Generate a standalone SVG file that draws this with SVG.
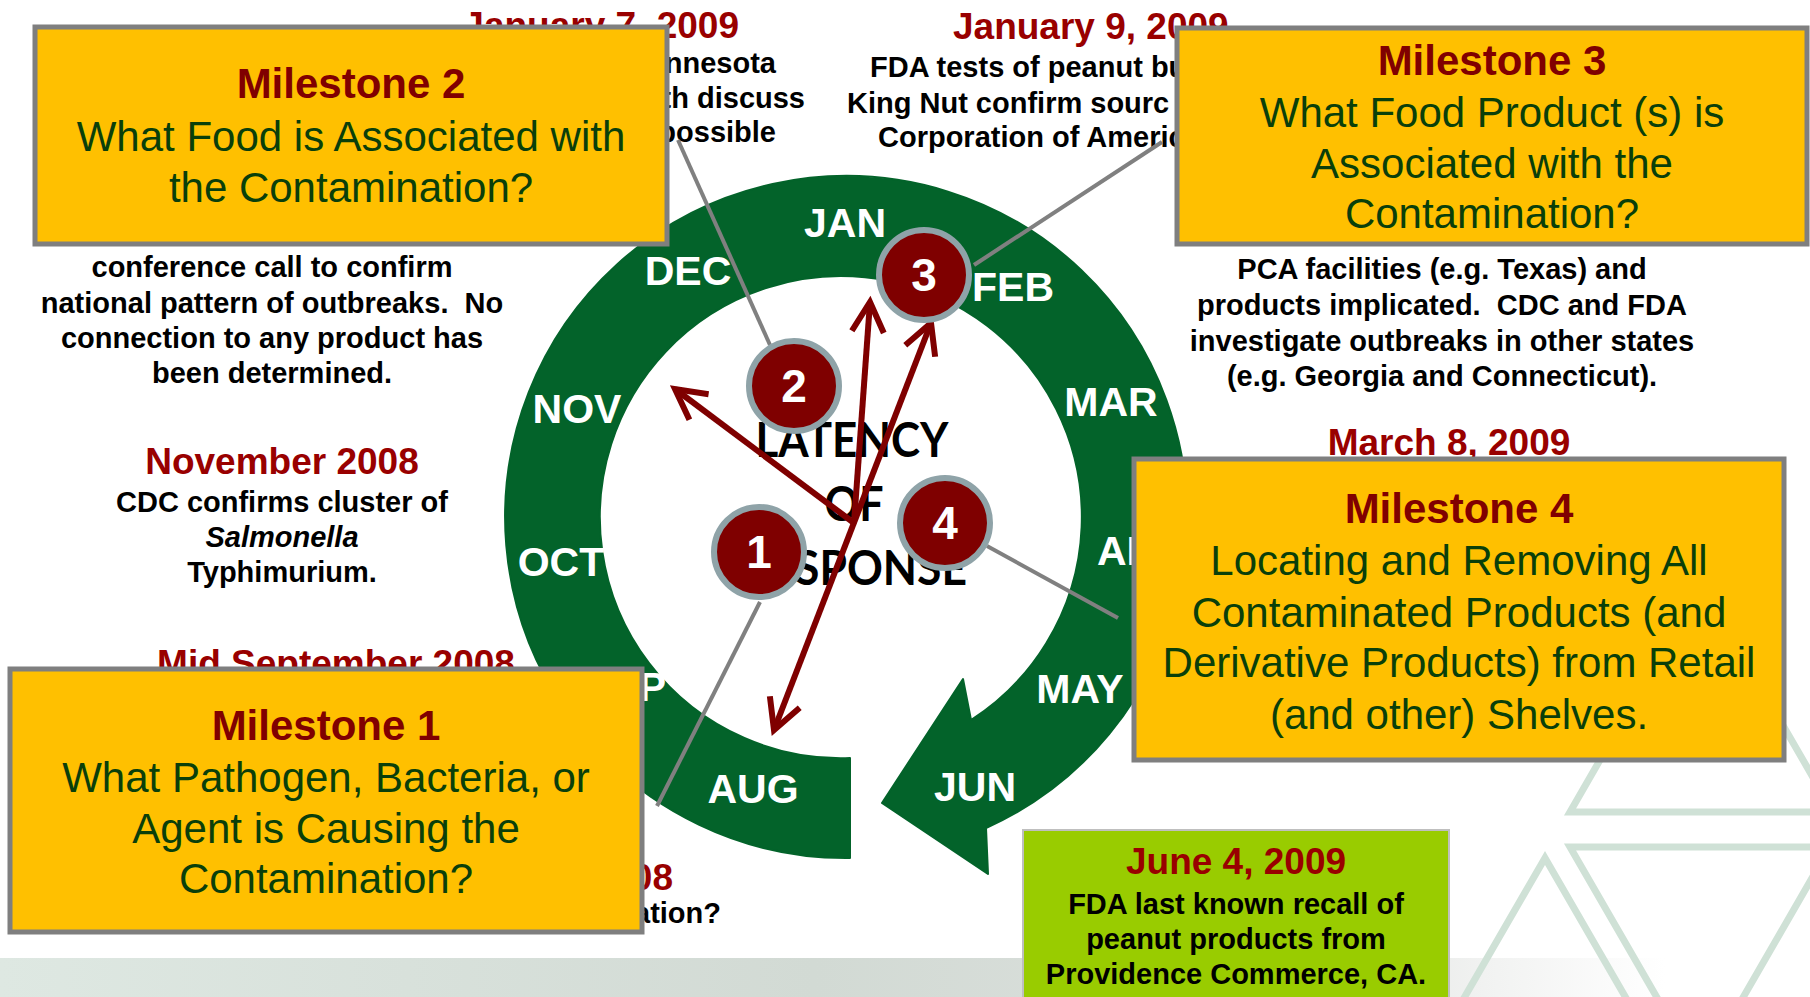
<svg xmlns="http://www.w3.org/2000/svg" width="1810" height="997" viewBox="0 0 1810 997">
<defs>
<style>
.body{font-family:"Liberation Sans",Arial,sans-serif;font-weight:bold;font-size:29px;fill:#000;text-anchor:middle}
.date{font-family:"Liberation Sans",Arial,sans-serif;font-weight:bold;font-size:37px;fill:#990000;text-anchor:middle}
.box{fill:#FFC000;stroke:#7F7F7F;stroke-width:5}
.mtitle{font-family:"Liberation Sans",Arial,sans-serif;font-weight:bold;font-size:42px;fill:#800000;text-anchor:middle}
.mbody{font-family:"Liberation Sans",Arial,sans-serif;font-size:42px;fill:#0A3F0A;text-anchor:middle}
.month{font-family:"Liberation Sans",Arial,sans-serif;font-weight:bold;font-size:41px;fill:#fff;text-anchor:middle}
.num circle{fill:#7F0000;stroke:#8FA3A8;stroke-width:6}
.num text{font-family:"Liberation Sans",Arial,sans-serif;font-weight:bold;font-size:46px;fill:#fff;text-anchor:middle}
.conn{stroke:#808080;stroke-width:4;fill:none}
.red{stroke:#7F0000;stroke-width:6;fill:none}
.tri{fill:none;stroke:#CFE1D6;stroke-width:7}
.lat{font-family:Lato,"Liberation Sans",sans-serif;font-weight:bold;font-size:47px;fill:#000;text-anchor:middle}
</style>
<linearGradient id="band" x1="0" y1="0" x2="1" y2="0">
<stop offset="0" stop-color="#DEE8E2"/>
<stop offset="0.45" stop-color="#D2DAD4"/>
<stop offset="0.7" stop-color="#DCE0DD"/>
<stop offset="0.82" stop-color="#F1F2F1"/>
<stop offset="0.92" stop-color="#FFFFFF"/>
</linearGradient>
<marker id="ah" viewBox="-44 -24 58 48" refX="0" refY="0" markerWidth="58" markerHeight="48" markerUnits="userSpaceOnUse" orient="auto-start-reverse">
<path d="M-30,-16 L0,0 L-30,16" fill="none" stroke="#7F0000" stroke-width="6"/>
</marker>
</defs>

<rect width="1810" height="997" fill="#fff"/>
<g id="background">
<rect x="0" y="958" width="1810" height="39" fill="url(#band)"/>
<polygon class="tri" points="1570,812 1833,812 1701.5,584"/>
<polygon class="tri" points="1570,847 1830,847 1700,1072"/>
<polygon class="tri" points="1545,858 1405,1100 1685,1100"/>
</g>

<g id="note-jan7">
<text class="date" x="739" y="38" style="text-anchor:end">January 7, 2009</text>
<text class="body" x="776" y="73" style="text-anchor:end">nnesota</text>
<text class="body" x="805" y="108" style="text-anchor:end">th discuss</text>
<text class="body" x="776" y="142" style="text-anchor:end">possible</text>
<text class="body" x="272" y="277">conference call to confirm</text>
<text class="body" x="272" y="313">national pattern of outbreaks.&#160; No</text>
<text class="body" x="272" y="348">connection to any product has</text>
<text class="body" x="272" y="383">been determined.</text>
</g>

<g id="note-nov2008">
<text class="date" x="282" y="474">November 2008</text>
<text class="body" x="282" y="512">CDC confirms cluster of</text>
<text class="body" x="282" y="547" font-style="italic">Salmonella</text>
<text class="body" x="282" y="582">Typhimurium.</text>
</g>

<g id="note-sep2008">
<text class="date" x="336" y="676">Mid September 2008</text>
<text class="date" x="673" y="890" style="text-anchor:end">08</text>
<text class="body" x="721" y="923" style="text-anchor:end">ation?</text>
</g>

<g id="note-jan9">
<text class="date" x="953" y="39" style="text-anchor:start">January 9, 2009</text>
<text class="body" x="870" y="77" style="text-anchor:start">FDA tests of peanut bu</text>
<text class="body" x="847" y="113" style="text-anchor:start">King Nut confirm sourc</text>
<text class="body" x="878" y="147" style="text-anchor:start">Corporation of Americ</text>
</g>

<g id="note-pca">
<text class="body" x="1442" y="279">PCA facilities (e.g. Texas) and</text>
<text class="body" x="1442" y="315">products implicated.&#160; CDC and FDA</text>
<text class="body" x="1442" y="351">investigate outbreaks in other states</text>
<text class="body" x="1442" y="386">(e.g. Georgia and Connecticut).</text>
</g>

<g id="note-mar8">
<text class="date" x="1449" y="455">March 8, 2009</text>
</g>

<g id="cycle">
<path d="M850,858 A341,341 0 1 1 986,828 L988,874 L882,803 L963,679 L971,720 A241,241 0 1 0 850,758 Z" fill="#03632A" stroke="#03632A" stroke-width="2" stroke-linejoin="round"/>
<text class="month" x="845" y="237">JAN</text>
<text class="month" x="688" y="285">DEC</text>
<text class="month" x="1013" y="301">FEB</text>
<text class="month" x="577" y="423">NOV</text>
<text class="month" x="1111" y="416">MAR</text>
<text class="month" x="561" y="576">OCT</text>
<text class="month" x="1097" y="565" style="text-anchor:start">APR</text>
<text class="month" x="666" y="701" style="text-anchor:end">SEP</text>
<text class="month" x="1080" y="703">MAY</text>
<text class="month" x="753" y="803">AUG</text>
<text class="month" x="975" y="801">JUN</text>
</g>

<g id="latency">
<text class="lat" x="852" y="457" textLength="193" lengthAdjust="spacingAndGlyphs">LATENCY</text>
<text class="lat" x="854" y="521" textLength="59" lengthAdjust="spacingAndGlyphs">OF</text>
<text class="lat" x="854" y="585" textLength="226" lengthAdjust="spacingAndGlyphs">RESPONSE</text>
</g>

<g id="connectors">
<line class="red" x1="854" y1="523" x2="675" y2="389" marker-end="url(#ah)"/>
<line class="red" x1="854" y1="523" x2="870" y2="302" marker-end="url(#ah)"/>
<line class="red" x1="774" y1="730" x2="931" y2="323" marker-start="url(#ah)" marker-end="url(#ah)"/>
<line class="conn" x1="678" y1="140" x2="770" y2="345"/>
<line class="conn" x1="974" y1="265" x2="1162" y2="142"/>
<line class="conn" x1="760" y1="602" x2="657" y2="806"/>
<line class="conn" x1="987" y1="546" x2="1118" y2="618"/>
</g>

<g id="marker-1" class="num"><circle cx="759" cy="552" r="45"/><text x="759" y="568">1</text></g>
<g id="marker-2" class="num"><circle cx="794" cy="386" r="45"/><text x="794" y="402">2</text></g>
<g id="marker-3" class="num"><circle cx="924" cy="275" r="45"/><text x="924" y="291">3</text></g>
<g id="marker-4" class="num"><circle cx="945" cy="523" r="45"/><text x="945" y="539">4</text></g>

<g id="milestone-2">
<rect class="box" x="35" y="27" width="632" height="217"/>
<text class="mtitle" x="351" y="98">Milestone 2</text>
<text class="mbody" x="351" y="151">What Food is Associated with</text>
<text class="mbody" x="351" y="202">the Contamination?</text>
</g>

<g id="milestone-3">
<rect class="box" x="1177" y="28" width="630" height="216"/>
<text class="mtitle" x="1492" y="75">Milestone 3</text>
<text class="mbody" x="1492" y="127">What Food Product (s) is</text>
<text class="mbody" x="1492" y="178">Associated with the</text>
<text class="mbody" x="1492" y="228">Contamination?</text>
</g>

<g id="milestone-4">
<rect class="box" x="1134" y="459" width="650" height="301"/>
<text class="mtitle" x="1459" y="523">Milestone 4</text>
<text class="mbody" x="1459" y="575">Locating and Removing All</text>
<text class="mbody" x="1459" y="627">Contaminated Products (and</text>
<text class="mbody" x="1459" y="677">Derivative Products) from Retail</text>
<text class="mbody" x="1459" y="729">(and other) Shelves.</text>
</g>

<g id="milestone-1">
<rect class="box" x="10" y="669" width="632" height="263"/>
<text class="mtitle" x="326" y="740">Milestone 1</text>
<text class="mbody" x="326" y="792">What Pathogen, Bacteria, or</text>
<text class="mbody" x="326" y="843">Agent is Causing the</text>
<text class="mbody" x="326" y="893">Contamination?</text>
</g>

<g id="note-jun4">
<rect x="1023" y="830" width="426" height="180" fill="#99CC00" stroke="#BFBFBF" stroke-width="2"/>
<text class="date" x="1236" y="874">June 4, 2009</text>
<text class="body" x="1236" y="914">FDA last known recall of</text>
<text class="body" x="1236" y="949">peanut products from</text>
<text class="body" x="1236" y="984">Providence Commerce, CA.</text>
</g>
</svg>
